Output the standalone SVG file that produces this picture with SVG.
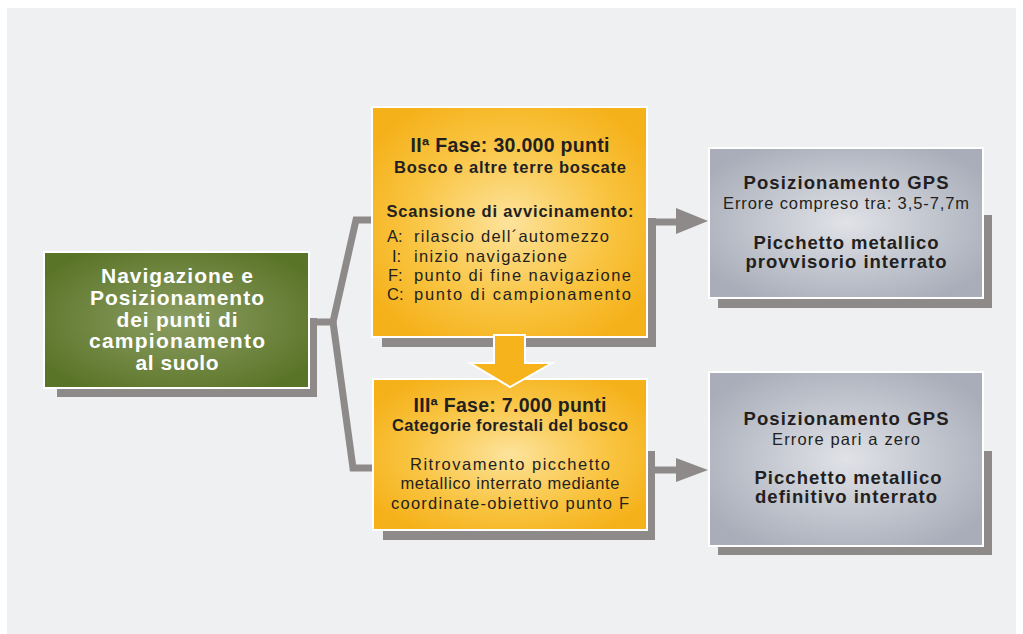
<svg xmlns="http://www.w3.org/2000/svg" width="1023" height="634" viewBox="0 0 1023 634">
<defs>
<radialGradient id="gGreen" cx="50%" cy="50%" r="60%">
<stop offset="0" stop-color="#8c9e63"/>
<stop offset="1" stop-color="#5a7427"/>
</radialGradient>
<radialGradient id="gYellow" cx="50%" cy="50%" r="60%">
<stop offset="0" stop-color="#fde39c"/>
<stop offset="0.6" stop-color="#f9c441"/>
<stop offset="1" stop-color="#f5b11a"/>
</radialGradient>
<radialGradient id="gGray" cx="50%" cy="50%" r="60%">
<stop offset="0" stop-color="#e0e2e7"/>
<stop offset="1" stop-color="#a8adb9"/>
</radialGradient>
<style>
.shadow{fill:#8e8a89}
.box{stroke:#ffffff;stroke-width:2}
.conn{fill:none;stroke:#8e8a89;stroke-width:7;stroke-linejoin:miter}
.head{fill:#8e8a89}
text{font-family:"Liberation Sans",Arial,sans-serif;fill:#231f20}
.b{font-weight:bold}
.c{text-anchor:middle}
.w{fill:#ffffff}
</style>
</defs>
<rect x="0" y="0" width="1023" height="634" fill="#ffffff"/>
<rect x="7" y="8" width="1009" height="626" fill="#eff0f2"/>

<g id="connectors">
<polyline class="conn" points="310,322 333,322 356,220 374,220"/>
<polyline class="conn" points="333,322 353,468 374,468"/>
<line class="conn" x1="652" y1="222" x2="680" y2="222"/>
<polygon class="head" points="676,208 708,221 676,234"/>
<line class="conn" x1="652" y1="470" x2="680" y2="470"/>
<polygon class="head" points="676,458 708,470 676,482"/>
</g>

<g id="node-navigazione">
<rect class="shadow" x="57" y="318" width="260" height="79"/>
<rect class="box" x="44" y="252" width="265" height="136" fill="url(#gGreen)"/>
<text class="b c w" font-size="21" x="177" y="283" textLength="152">Navigazione e</text>
<text class="b c w" font-size="21" x="177" y="305" textLength="174">Posizionamento</text>
<text class="b c w" font-size="21" x="177" y="327" textLength="121">dei punti di</text>
<text class="b c w" font-size="21" x="177" y="348" textLength="176">campionamento</text>
<text class="b c w" font-size="21" x="177" y="370" textLength="83">al suolo</text>
</g>

<g id="node-fase2">
<rect class="shadow" x="382" y="218" width="274" height="129"/>
<rect class="box" x="372" y="107" width="275" height="230" fill="url(#gYellow)"/>
<text class="b c" font-size="19.5" x="510" y="152" textLength="199">IIª Fase: 30.000 punti</text>
<text class="b c" font-size="16.5" x="510" y="173" textLength="232">Bosco e altre terre boscate</text>
<text class="b c" font-size="16.5" x="510" y="217" textLength="247">Scansione di avvicinamento:</text>
<text font-size="16.5" x="387" y="242">A:</text>
<text font-size="16.5" x="414" y="242" textLength="195">rilascio dell´automezzo</text>
<text font-size="16.5" x="392" y="262">I:</text>
<text font-size="16.5" x="414" y="262" textLength="153">inizio navigazione</text>
<text font-size="16.5" x="388" y="281">F:</text>
<text font-size="16.5" x="414" y="281" textLength="217">punto di fine navigazione</text>
<text font-size="16.5" x="387" y="300">C:</text>
<text font-size="16.5" x="414" y="300" textLength="217">punto di campionamento</text>
</g>

<g id="node-fase3">
<rect class="shadow" x="383" y="451" width="272" height="89"/>
<rect class="box" x="373" y="379" width="274" height="151" fill="url(#gYellow)"/>
<text class="b c" font-size="19.5" x="510" y="412" textLength="193">IIIª Fase: 7.000 punti</text>
<text class="b c" font-size="16.5" x="510" y="431" textLength="236">Categorie forestali del bosco</text>
<text class="c" font-size="16.5" x="510" y="470" textLength="200">Ritrovamento picchetto</text>
<text class="c" font-size="16.5" x="510" y="489" textLength="219">metallico interrato mediante</text>
<text class="c" font-size="16.5" x="510" y="509" textLength="238">coordinate-obiettivo punto F</text>
</g>

<g id="arrow-down">
<polygon points="494,335 525,335 525,363 552,363 510,387 470,363 494,363" fill="#f6b31b" stroke="#ffffff" stroke-width="2"/>
</g>

<g id="node-gps1">
<rect class="shadow" x="718" y="215" width="274" height="93"/>
<rect class="box" x="709" y="148" width="274" height="150" fill="url(#gGray)"/>
<text class="b c" font-size="18.5" x="846" y="189" textLength="205">Posizionamento GPS</text>
<text class="c" font-size="16.5" x="846" y="209" textLength="246">Errore compreso tra: 3,5-7,7m</text>
<text class="b c" font-size="18.5" x="846" y="249" textLength="185">Picchetto metallico</text>
<text class="b c" font-size="18.5" x="846" y="268" textLength="201">provvisorio interrato</text>
</g>

<g id="node-gps2">
<rect class="shadow" x="718" y="451" width="274" height="104"/>
<rect class="box" x="709" y="372" width="274" height="174" fill="url(#gGray)"/>
<text class="b c" font-size="18.5" x="846" y="425" textLength="205">Posizionamento GPS</text>
<text class="c" font-size="16.5" x="846" y="445" textLength="148">Errore pari a zero</text>
<text class="b c" font-size="18.5" x="848" y="484" textLength="187">Picchetto metallico</text>
<text class="b c" font-size="18.5" x="846" y="503" textLength="182">definitivo interrato</text>
</g>
</svg>
